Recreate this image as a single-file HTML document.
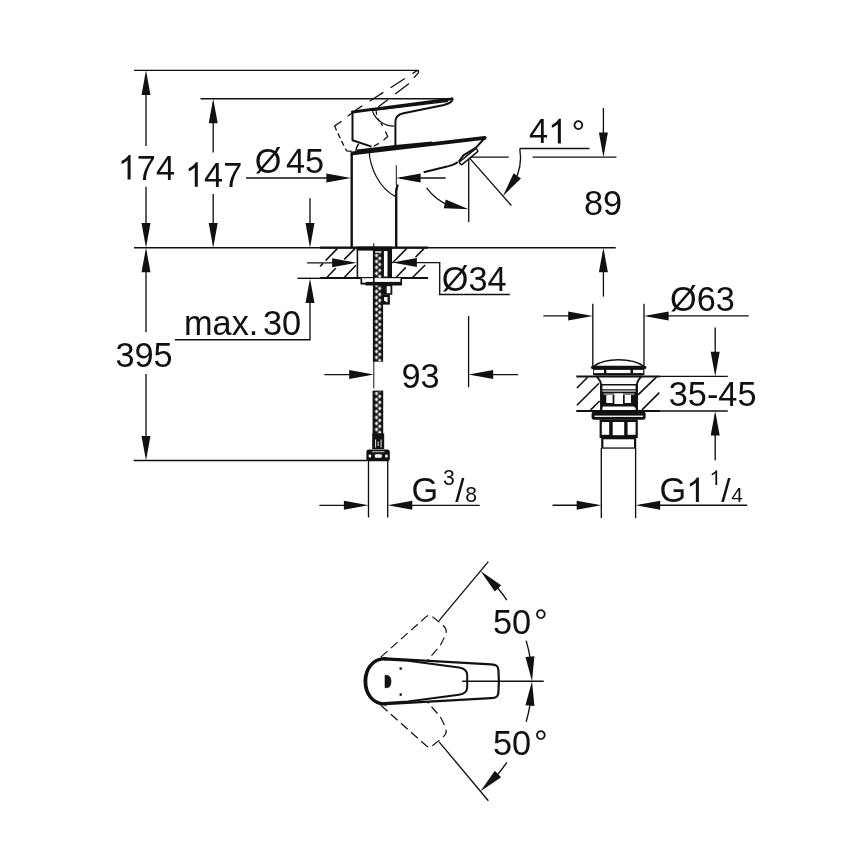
<!DOCTYPE html>
<html><head><meta charset="utf-8"><title>Dimension drawing</title>
<style>
html,body{margin:0;padding:0;background:#fff;}
body{width:868px;height:868px;overflow:hidden;}
svg{display:block;will-change:transform;}
text{font-family:"Liberation Sans",sans-serif;fill:#111;}
</style></head><body>
<svg width="868" height="868" viewBox="0 0 868 868">
<rect width="868" height="868" fill="#fff"/>
<line x1="134.00" y1="70.30" x2="418.70" y2="70.30" stroke="#111" stroke-width="1.35" />
<line x1="200.50" y1="98.70" x2="452.00" y2="98.70" stroke="#111" stroke-width="1.35" />
<line x1="134.00" y1="247.70" x2="615.70" y2="247.70" stroke="#111" stroke-width="1.35" />
<line x1="133.60" y1="460.50" x2="367.00" y2="460.50" stroke="#111" stroke-width="1.35" />
<line x1="146.00" y1="75.00" x2="146.00" y2="146.10" stroke="#111" stroke-width="1.35" />
<polygon points="146.00,70.30 150.50,94.90 141.50,94.90" fill="#111"/>
<line x1="146.00" y1="186.80" x2="146.00" y2="243.00" stroke="#111" stroke-width="1.35" />
<polygon points="146.00,247.70 141.50,223.10 150.50,223.10" fill="#111"/>
<line x1="213.20" y1="103.00" x2="213.20" y2="152.60" stroke="#111" stroke-width="1.35" />
<polygon points="213.20,98.70 217.70,123.30 208.70,123.30" fill="#111"/>
<line x1="213.20" y1="194.00" x2="213.20" y2="243.00" stroke="#111" stroke-width="1.35" />
<polygon points="213.20,247.70 208.70,223.10 217.70,223.10" fill="#111"/>
<polygon points="146.00,247.70 150.50,272.30 141.50,272.30" fill="#111"/>
<line x1="146.00" y1="252.00" x2="146.00" y2="332.20" stroke="#111" stroke-width="1.35" />
<line x1="146.00" y1="374.00" x2="146.00" y2="456.00" stroke="#111" stroke-width="1.35" />
<polygon points="146.00,460.50 141.50,435.90 150.50,435.90" fill="#111"/>
<line x1="246.10" y1="178.00" x2="345.00" y2="178.00" stroke="#111" stroke-width="1.35" />
<polygon points="351.00,178.00 326.40,182.50 326.40,173.50" fill="#111"/>
<polygon points="396.00,178.00 420.60,173.50 420.60,182.50" fill="#111"/>
<line x1="400.00" y1="178.00" x2="445.60" y2="178.00" stroke="#111" stroke-width="1.35" />
<line x1="310.00" y1="198.30" x2="310.00" y2="243.00" stroke="#111" stroke-width="1.35" />
<polygon points="310.00,247.70 305.50,223.10 314.50,223.10" fill="#111"/>
<polygon points="310.00,278.40 314.50,303.00 305.50,303.00" fill="#111"/>
<line x1="310.00" y1="283.00" x2="310.00" y2="339.70" stroke="#111" stroke-width="1.35" />
<line x1="174.80" y1="339.70" x2="310.60" y2="339.70" stroke="#111" stroke-width="1.35" />
<line x1="297.40" y1="278.30" x2="322.00" y2="278.30" stroke="#111" stroke-width="1.35" />
<line x1="307.10" y1="262.80" x2="350.00" y2="262.80" stroke="#111" stroke-width="1.35" />
<polygon points="356.70,262.80 332.10,267.30 332.10,258.30" fill="#111"/>
<polygon points="392.30,262.60 416.90,258.10 416.90,267.10" fill="#111"/>
<path d="M398 262.6 H439.7 V294.5 H509.8" stroke="#111" stroke-width="1.35" fill="none" />
<line x1="324.30" y1="374.60" x2="368.00" y2="374.60" stroke="#111" stroke-width="1.35" />
<polygon points="373.80,374.60 349.20,379.10 349.20,370.10" fill="#111"/>
<line x1="468.60" y1="316.00" x2="468.60" y2="387.20" stroke="#111" stroke-width="1.35" />
<polygon points="468.60,374.60 493.20,370.10 493.20,379.10" fill="#111"/>
<line x1="473.00" y1="374.60" x2="518.00" y2="374.60" stroke="#111" stroke-width="1.35" />
<line x1="373.80" y1="243.20" x2="373.80" y2="388.50" stroke="#111" stroke-width="1.0" />
<line x1="368.50" y1="460.50" x2="368.50" y2="517.50" stroke="#111" stroke-width="1.35" />
<line x1="387.70" y1="460.50" x2="387.70" y2="517.50" stroke="#111" stroke-width="1.35" />
<line x1="319.40" y1="505.30" x2="363.00" y2="505.30" stroke="#111" stroke-width="1.35" />
<polygon points="368.50,505.30 343.90,509.80 343.90,500.80" fill="#111"/>
<polygon points="387.70,505.30 412.30,500.80 412.30,509.80" fill="#111"/>
<line x1="392.00" y1="505.30" x2="479.70" y2="505.30" stroke="#111" stroke-width="1.35" />
<line x1="603.40" y1="108.00" x2="603.40" y2="152.00" stroke="#111" stroke-width="1.35" />
<polygon points="603.40,157.20 598.90,132.60 607.90,132.60" fill="#111"/>
<polygon points="603.40,247.70 607.90,272.30 598.90,272.30" fill="#111"/>
<line x1="603.40" y1="252.00" x2="603.40" y2="296.60" stroke="#111" stroke-width="1.35" />
<line x1="468.70" y1="157.10" x2="508.70" y2="157.10" stroke="#111" stroke-width="1.35" />
<line x1="532.60" y1="157.10" x2="616.50" y2="157.10" stroke="#111" stroke-width="1.35" />
<line x1="468.70" y1="157.10" x2="468.70" y2="221.90" stroke="#111" stroke-width="1.35" />
<line x1="468.70" y1="157.10" x2="511.40" y2="205.50" stroke="#111" stroke-width="1.35" />
<line x1="519.80" y1="148.50" x2="589.50" y2="148.50" stroke="#111" stroke-width="1.35" />
<path d="M519.79 148.55 A51.8 51.8 0 0 1 513.56 183.00" stroke="#111" stroke-width="1.35" fill="none" />
<polygon points="502.96,195.96 513.62,173.33 520.94,178.57" fill="#111"/>
<path d="M426.58 187.93 A52.2 52.2 0 0 0 449.15 205.50" stroke="#111" stroke-width="1.35" fill="none" />
<polygon points="468.70,209.30 443.72,208.15 445.74,199.38" fill="#111"/>
<line x1="592.80" y1="303.80" x2="592.80" y2="366.00" stroke="#111" stroke-width="1.35" />
<line x1="644.00" y1="303.80" x2="644.00" y2="366.00" stroke="#111" stroke-width="1.35" />
<line x1="543.40" y1="315.90" x2="587.00" y2="315.90" stroke="#111" stroke-width="1.35" />
<polygon points="592.80,315.90 568.20,320.40 568.20,311.40" fill="#111"/>
<polygon points="644.00,315.90 668.60,311.40 668.60,320.40" fill="#111"/>
<line x1="648.00" y1="315.90" x2="748.70" y2="315.90" stroke="#111" stroke-width="1.35" />
<line x1="601.30" y1="448.00" x2="601.30" y2="518.00" stroke="#111" stroke-width="1.35" />
<line x1="635.60" y1="448.00" x2="635.60" y2="518.00" stroke="#111" stroke-width="1.35" />
<line x1="552.50" y1="505.20" x2="596.00" y2="505.20" stroke="#111" stroke-width="1.35" />
<polygon points="601.30,505.20 576.70,509.70 576.70,500.70" fill="#111"/>
<polygon points="635.60,505.20 660.20,500.70 660.20,509.70" fill="#111"/>
<line x1="640.00" y1="505.20" x2="747.20" y2="505.20" stroke="#111" stroke-width="1.35" />
<line x1="660.00" y1="376.40" x2="727.80" y2="376.40" stroke="#111" stroke-width="1.35" />
<line x1="660.00" y1="411.00" x2="727.80" y2="411.00" stroke="#111" stroke-width="1.35" />
<line x1="715.20" y1="327.50" x2="715.20" y2="371.00" stroke="#111" stroke-width="1.35" />
<polygon points="715.20,376.40 710.70,351.80 719.70,351.80" fill="#111"/>
<polygon points="715.20,411.00 719.70,435.60 710.70,435.60" fill="#111"/>
<line x1="715.20" y1="415.00" x2="715.20" y2="460.30" stroke="#111" stroke-width="1.35" />
<path transform="translate(117.79,179.50) scale(0.03430,-0.03430)" d="M373 0 L285 0 L285 560 Q253 530 201 499 Q150 468 109 453 L109 538 Q183 573 238 622 Q293 671 316 716 L373 716 Z" fill="#111"/>
<text x="136.86" y="179.50" font-size="34.3">7</text>
<text x="155.94" y="179.50" font-size="34.3">4</text>
<path transform="translate(184.99,186.80) scale(0.03430,-0.03430)" d="M373 0 L285 0 L285 560 Q253 530 201 499 Q150 468 109 453 L109 538 Q183 573 238 622 Q293 671 316 716 L373 716 Z" fill="#111"/>
<text x="204.06" y="186.80" font-size="34.3">4</text>
<text x="223.14" y="186.80" font-size="34.3">7</text>
<text x="144.00" y="367.20" font-size="34.3" text-anchor="middle" >395</text>
<text x="254.80" y="172.50" font-size="34.3" text-anchor="start" >Ø</text>
<text x="286.00" y="172.50" font-size="34.3" text-anchor="start" >45</text>
<text x="184.00" y="334.90" font-size="34.3" text-anchor="start" >max.</text>
<text x="263.00" y="334.90" font-size="34.3" text-anchor="start" >30</text>
<text x="441.80" y="291.30" font-size="34.3" text-anchor="start" >Ø34</text>
<text x="401.50" y="387.60" font-size="34.3" text-anchor="start" >93</text>
<text x="584.00" y="214.80" font-size="34.3" text-anchor="start" >89</text>
<text x="529.00" y="143.40" font-size="34.3">4</text>
<path transform="translate(548.07,143.40) scale(0.03430,-0.03430)" d="M373 0 L285 0 L285 560 Q253 530 201 499 Q150 468 109 453 L109 538 Q183 573 238 622 Q293 671 316 716 L373 716 Z" fill="#111"/>
<text x="571.40" y="145.00" font-size="34.3" text-anchor="start" >°</text>
<text x="670.00" y="311.10" font-size="34.3" text-anchor="start" >Ø63</text>
<text x="668.80" y="406.40" font-size="34.3" text-anchor="start" >35-45</text>
<text x="411.60" y="502.10" font-size="34.3" text-anchor="start" >G</text>
<text x="443.10" y="485.10" font-size="21.2" text-anchor="start" >3</text>
<text x="455.30" y="501.80" font-size="33" text-anchor="start" >/</text>
<text x="465.30" y="502.20" font-size="21.2" text-anchor="start" >8</text>
<text x="659.40" y="502.00" font-size="34.3">G</text>
<path transform="translate(686.09,502.00) scale(0.03430,-0.03430)" d="M373 0 L285 0 L285 560 Q253 530 201 499 Q150 468 109 453 L109 538 Q183 573 238 622 Q293 671 316 716 L373 716 Z" fill="#111"/>
<path transform="translate(709.50,484.90) scale(0.02060,-0.02060)" d="M373 0 L285 0 L285 560 Q253 530 201 499 Q150 468 109 453 L109 538 Q183 573 238 622 Q293 671 316 716 L373 716 Z" fill="#111"/>
<text x="721.30" y="501.50" font-size="33.5" text-anchor="start" >/</text>
<text x="731.20" y="501.70" font-size="21" text-anchor="start" >4</text>
<text x="493.00" y="633.60" font-size="34.3" text-anchor="start" >50</text>
<text x="534.00" y="633.60" font-size="34.3" text-anchor="start" >°</text>
<text x="493.00" y="754.90" font-size="34.3" text-anchor="start" >50</text>
<text x="534.00" y="754.90" font-size="34.3" text-anchor="start" >°</text>
<line x1="351.70" y1="153.00" x2="351.70" y2="247.00" stroke="#111" stroke-width="2.4" />
<line x1="396.30" y1="165.20" x2="396.30" y2="185.00" stroke="#111" stroke-width="1.0" />
<path d="M397.6 184.5 L396.2 191 V247" stroke="#111" stroke-width="2.4" fill="none" />
<path d="M369 149.5 C369.8 168, 379 188, 395.5 196.6" stroke="#111" stroke-width="1.2" fill="none" />
<path d="M352.4 153.4 L484.8 137.9" stroke="#111" stroke-width="3.6" fill="none" stroke-linecap="round"/>
<path d="M357 150.6 L395.3 146.3 L432 142.8" stroke="#111" stroke-width="2.4" fill="none" />
<path d="M484.8 138 L476 147.6 L463.4 155.3 L458.8 161.6" stroke="#111" stroke-width="2.0" fill="none" stroke-linejoin="round"/>
<g transform="translate(468.6,156.6) rotate(-39.5)"><rect x="-11" y="-1.7" width="22" height="3.6" rx="1.2" fill="#fff" stroke="#111" stroke-width="1.5"/></g>
<path d="M457.8 162 C454 165, 451 165.6, 446 166.8 L423.7 172.3" stroke="#111" stroke-width="2.0" fill="none" />
<path d="M352.4 112 L452 98.8" stroke="#111" stroke-width="2.8" fill="none" stroke-linecap="round"/>
<path d="M372 110.6 L448 101.2" stroke="#111" stroke-width="1.4" fill="none" />
<path d="M452.3 99 C453.2 101.2, 450 103, 444 105 L403.5 113.2 C397.5 114.6, 395.4 117, 395.4 121.5 V146" stroke="#111" stroke-width="2.0" fill="none" />
<path d="M352.5 111.5 V140.3 L371.5 146.6" stroke="#111" stroke-width="2.0" fill="none" stroke-linejoin="round"/>
<path d="M372.5 111.3 A23 23 0 0 0 394 126.2" stroke="#111" stroke-width="1.2" fill="none" />
<path d="M358.7 143.8 C356.6 146.5, 355.8 149, 355.6 152.5" stroke="#111" stroke-width="1.5" fill="none" />
<path d="M413.9 77.7 L418.6 72.6 L418.4 70.9 L416.6 70.8 L412.5 73.6" stroke="#111" stroke-width="1.3" fill="none" stroke-linejoin="round"/>
<path d="M404.9 78.5 L390.6 87.7" stroke="#111" stroke-width="1.3" fill="none" stroke-linejoin="round"/>
<path d="M383.3 92.4 L369.6 101.2" stroke="#111" stroke-width="1.3" fill="none" stroke-linejoin="round"/>
<path d="M362.3 105.9 L355.4 110.2" stroke="#111" stroke-width="1.3" fill="none" stroke-linejoin="round"/>
<path d="M351.7 113.4 L347.6 116.2" stroke="#111" stroke-width="1.3" fill="none" stroke-linejoin="round"/>
<path d="M341.6 121.3 L334.7 125.9 L336.5 130.5" stroke="#111" stroke-width="1.3" fill="none" stroke-linejoin="round"/>
<path d="M337.9 133.2 L340.2 138.3" stroke="#111" stroke-width="1.3" fill="none" stroke-linejoin="round"/>
<path d="M341.6 141.1 L343.9 145.7" stroke="#111" stroke-width="1.3" fill="none" stroke-linejoin="round"/>
<path d="M345.3 148.5 L346.7 150.9 L351.7 151.3" stroke="#111" stroke-width="1.3" fill="none" stroke-linejoin="round"/>
<path d="M373.8 146.2 L378.9 143.4" stroke="#111" stroke-width="1.3" fill="none" stroke-linejoin="round"/>
<path d="M383.5 140.2 L387.7 136.5 L385.4 131.4" stroke="#111" stroke-width="1.3" fill="none" stroke-linejoin="round"/>
<path d="M409 83.4 L395.3 93.9" stroke="#111" stroke-width="1.3" fill="none" stroke-linejoin="round"/>
<path d="M388.1 99.5 L378.4 106.8" stroke="#111" stroke-width="1.3" fill="none" stroke-linejoin="round"/>
<path d="M376.2 111.1 L376.6 114.8" stroke="#111" stroke-width="1.3" fill="none" stroke-linejoin="round"/>
<path d="M378 118.5 L379.4 121.3" stroke="#111" stroke-width="1.3" fill="none" stroke-linejoin="round"/>
<path d="M380.8 123.1 L382.6 125.9" stroke="#111" stroke-width="1.3" fill="none" stroke-linejoin="round"/>
<line x1="320.00" y1="247.70" x2="428.00" y2="247.70" stroke="#111" stroke-width="2.2" />
<line x1="320.00" y1="278.00" x2="428.00" y2="278.00" stroke="#111" stroke-width="2.2" />
<line x1="320.00" y1="266.50" x2="323.00" y2="263.40" stroke="#111" stroke-width="1.6" />
<line x1="325.60" y1="260.60" x2="337.50" y2="248.40" stroke="#111" stroke-width="1.6" />
<line x1="326.90" y1="277.50" x2="335.70" y2="268.20" stroke="#111" stroke-width="1.6" />
<line x1="344.20" y1="259.40" x2="355.20" y2="248.40" stroke="#111" stroke-width="1.6" />
<line x1="344.20" y1="277.50" x2="356.00" y2="265.20" stroke="#111" stroke-width="1.6" />
<line x1="392.40" y1="263.00" x2="406.80" y2="248.40" stroke="#111" stroke-width="1.6" />
<line x1="396.10" y1="277.50" x2="405.80" y2="267.40" stroke="#111" stroke-width="1.6" />
<line x1="415.50" y1="257.20" x2="424.20" y2="248.40" stroke="#111" stroke-width="1.6" />
<line x1="412.70" y1="277.30" x2="425.20" y2="265.00" stroke="#111" stroke-width="1.6" />
<rect x="356.90" y="246.60" width="35.20" height="4.00" fill="#111" stroke="none" stroke-width="0" />
<line x1="357.40" y1="247.00" x2="357.40" y2="278.00" stroke="#111" stroke-width="1.6" />
<rect x="388.00" y="247.00" width="4.00" height="31.00" fill="#111" stroke="none" stroke-width="0" />
<rect x="383.40" y="250.50" width="4.60" height="26.50" fill="#fff" stroke="#111" stroke-width="1.0" />
<defs><pattern id="br" x="373.6" y="253.6" width="9" height="6" patternUnits="userSpaceOnUse">
<rect width="9" height="6" fill="#111"/>
<path d="M2.9 -0.3 L4.7 1.8 L2.9 3.9 L1.1 1.8Z M6.1 2.7 L7.9 4.8 L6.1 6.9 L4.3 4.8Z M6.1 -3.3 L7.9 -1.2 L6.1 0.9 L4.3 -1.2Z" fill="#fff"/>
</pattern></defs>
<rect x="372.90" y="250.00" width="10.20" height="111.60" fill="#111" stroke="none" stroke-width="0" />
<rect x="373.60" y="253.60" width="9.00" height="107.80" fill="url(#br)" stroke="none" stroke-width="0" />
<rect x="375.20" y="251.30" width="6.20" height="1.40" fill="#fff" stroke="none" stroke-width="0" />
<rect x="372.60" y="390.60" width="10.60" height="43.40" fill="#111" stroke="none" stroke-width="0" />
<rect x="373.60" y="391.60" width="9.00" height="42.00" fill="url(#br)" stroke="none" stroke-width="0" />
<rect x="361.30" y="278.20" width="39.90" height="6.20" fill="#fff" stroke="none" stroke-width="0" />
<path d="M361.3 278.5 V283.6 H365.6 L366.4 284.6 H401.2 V278.5" stroke="#111" stroke-width="1.7" fill="none" />
<rect x="365.80" y="281.90" width="35.40" height="3.00" fill="#111" stroke="none" stroke-width="0" />
<rect x="361.30" y="282.90" width="5.00" height="1.30" fill="#111" stroke="none" stroke-width="0" />
<rect x="373.00" y="278.00" width="1.60" height="7.00" fill="#111" stroke="none" stroke-width="0" />
<rect x="382.70" y="285.00" width="9.60" height="9.80" fill="#111" stroke="none" stroke-width="0" />
<rect x="386.70" y="286.20" width="3.80" height="7.00" fill="#fff" stroke="none" stroke-width="0" />
<rect x="382.70" y="294.60" width="7.20" height="10.00" fill="#111" stroke="none" stroke-width="0" />
<path d="M384 297 H387.6 V302.6 L384 300.8 Z" stroke="#111" stroke-width="0.1" fill="#fff" />
<rect x="372.20" y="433.50" width="12.00" height="15.50" fill="#111" stroke="none" stroke-width="0" />
<rect x="375.20" y="439.50" width="0.90" height="8.00" fill="#fff" stroke="none" stroke-width="0" />
<rect x="380.60" y="439.50" width="0.90" height="8.00" fill="#fff" stroke="none" stroke-width="0" />
<rect x="377.40" y="441.50" width="1.60" height="4.50" fill="#999" stroke="none" stroke-width="0" />
<rect x="366.4" y="449.4" width="23.4" height="11.8" rx="2.5" fill="#111"/>
<rect x="368.70" y="454.60" width="2.40" height="2.80" fill="#fff" stroke="none" stroke-width="0" />
<rect x="374.90" y="454.20" width="6.90" height="3.50" fill="#fff" stroke="none" stroke-width="0" rx="1"/>
<rect x="385.20" y="454.60" width="2.40" height="2.80" fill="#fff" stroke="none" stroke-width="0" />
<rect x="372.00" y="451.40" width="12.50" height="0.80" fill="#fff" stroke="none" stroke-width="0" />
<line x1="576.30" y1="376.40" x2="660.00" y2="376.40" stroke="#111" stroke-width="2.0" />
<line x1="576.30" y1="411.00" x2="660.00" y2="411.00" stroke="#111" stroke-width="2.0" />
<line x1="576.90" y1="388.00" x2="587.60" y2="377.30" stroke="#111" stroke-width="1.6" />
<line x1="576.90" y1="405.30" x2="599.00" y2="383.20" stroke="#111" stroke-width="1.6" />
<line x1="590.70" y1="409.90" x2="599.60" y2="401.00" stroke="#111" stroke-width="1.6" />
<line x1="638.00" y1="394.90" x2="656.60" y2="376.90" stroke="#111" stroke-width="1.6" />
<line x1="642.00" y1="409.90" x2="659.30" y2="392.60" stroke="#111" stroke-width="1.6" />
<path d="M594 366.2 C605 357.6, 632 357.6, 643.5 366.2" stroke="#111" stroke-width="1.6" fill="none" />
<line x1="592.60" y1="367.40" x2="644.80" y2="367.40" stroke="#111" stroke-width="3.2" stroke-linecap="round"/>
<rect x="593.00" y="368.50" width="51.40" height="6.50" fill="#111" stroke="none" stroke-width="0" />
<rect x="593.80" y="369.90" width="10.20" height="3.20" fill="#fff" stroke="none" stroke-width="0" />
<rect x="606.30" y="369.90" width="24.20" height="3.20" fill="#fff" stroke="none" stroke-width="0" />
<rect x="633.00" y="369.90" width="10.20" height="3.20" fill="#fff" stroke="none" stroke-width="0" />
<path d="M596.5 376.5 C598.5 379, 600.6 380, 601 384 V411 H637 V384 C637.4 380, 639.5 379, 641.5 376.5 Z" stroke="#111" stroke-width="1.8" fill="#fff" />
<line x1="601.00" y1="384.80" x2="637.00" y2="384.80" stroke="#111" stroke-width="1.6" />
<line x1="601.00" y1="389.90" x2="637.00" y2="389.90" stroke="#111" stroke-width="1.4" />
<rect x="601.00" y="391.60" width="36.00" height="2.00" fill="#111" stroke="none" stroke-width="0" />
<rect x="602.00" y="393.00" width="34.00" height="14.50" fill="#111" stroke="none" stroke-width="0" />
<rect x="603.60" y="393.60" width="30.80" height="0.90" fill="#fff" stroke="none" stroke-width="0" />
<rect x="606.30" y="395.00" width="6.30" height="8.00" fill="#fff" stroke="none" stroke-width="0" />
<rect x="614.40" y="393.40" width="8.60" height="10.60" fill="#fff" stroke="none" stroke-width="0" />
<rect x="624.70" y="395.00" width="6.30" height="8.00" fill="#fff" stroke="none" stroke-width="0" />
<rect x="602.90" y="406.50" width="31.40" height="3.40" fill="#fff" stroke="none" stroke-width="0" />
<rect x="600.40" y="384.00" width="2.00" height="27.00" fill="#111" stroke="none" stroke-width="0" />
<rect x="635.60" y="384.00" width="2.00" height="27.00" fill="#111" stroke="none" stroke-width="0" />
<rect x="591.6" y="411.6" width="54" height="8.2" rx="2.5" fill="#111"/>
<rect x="594.50" y="415.60" width="48.40" height="1.30" fill="#fff" stroke="none" stroke-width="0" />
<rect x="599.60" y="419.50" width="38.20" height="18.50" fill="#111" stroke="none" stroke-width="0" />
<rect x="601.80" y="422.00" width="7.40" height="12.80" fill="#fff" stroke="none" stroke-width="0" />
<rect x="612.70" y="422.00" width="11.50" height="13.20" fill="#fff" stroke="none" stroke-width="0" />
<rect x="627.60" y="422.00" width="8.00" height="12.80" fill="#fff" stroke="none" stroke-width="0" />
<rect x="601.20" y="437.50" width="35.00" height="11.20" fill="#111" stroke="none" stroke-width="0" />
<rect x="603.40" y="439.30" width="30.60" height="8.10" fill="#fff" stroke="none" stroke-width="0" />
<path d="M385 658.4 L491 664.3 C496.5 664.6, 498 666, 498.4 670 L498.9 681.2 L498.4 692.5 C498 696.5, 496.5 697.9, 491 698.2 L385 704.2 C372 704.2, 364.6 693, 364.6 681.2 C364.6 669.5, 372 658.4, 385 658.4 Z" stroke="#111" stroke-width="2.2" fill="none" />
<path d="M384 659.6 L408 660.8 L459 667.6 C464.5 668.4, 467 670.5, 467.2 675 V687.5 C467 692, 464.5 694, 459 694.8 L408 701.6 L384 702.9" stroke="#111" stroke-width="2.0" fill="none" />
<line x1="462.20" y1="681.20" x2="543.70" y2="681.20" stroke="#111" stroke-width="1.35" />
<path d="M385 675.3 H387.3 Q391 676 391 681.4 Q391 687 387.3 687.7 H385 Z" stroke="#111" stroke-width="0.6" fill="#111" />
<circle cx="400.7" cy="668.6" r="1.3" fill="#111"/><circle cx="400.7" cy="694.6" r="1.3" fill="#111"/>
<path d="M386.5 658.6 C372 658, 365.6 670, 365.6 681.3 C365.6 693, 372 704.6, 386.5 704" stroke="#111" stroke-width="3.4" fill="none" />
<path d="M380.8 657.1 L426.3 616.6 Q429 614.4 432 616.3 L441.6 624 Q446.5 628 446.2 631.5 Q445.5 636 440 646 L427.8 659.9" stroke="#111" stroke-width="1.2" fill="none" stroke-dasharray="9 4.5"/>
<path d="M380.8 705.3 L426.3 745.8 Q429 748 432 746.1 L441.6 738.4 Q446.5 734.4 446.2 730.9 Q445.5 726.4 440 716.4 L427.8 702.5" stroke="#111" stroke-width="1.2" fill="none" stroke-dasharray="9 4.5"/>
<line x1="439.07" y1="620.59" x2="488.34" y2="561.68" stroke="#111" stroke-width="1.35" />
<line x1="439.07" y1="741.81" x2="488.34" y2="800.72" stroke="#111" stroke-width="1.35" />
<polygon points="480.51,571.04 501.14,585.18 494.80,591.56" fill="#111"/>
<path d="M496.61 586.80 A143.6 143.6 0 0 1 506.89 600.07" stroke="#111" stroke-width="1.35" fill="none" />
<polygon points="480.51,791.36 494.80,770.84 501.14,777.22" fill="#111"/>
<path d="M506.89 762.33 A143.6 143.6 0 0 1 496.61 775.60" stroke="#111" stroke-width="1.35" fill="none" />
<polygon points="532.00,681.20 525.46,657.06 534.43,656.31" fill="#111"/>
<path d="M526.16 640.66 A143.6 143.6 0 0 1 530.23 658.74" stroke="#111" stroke-width="1.35" fill="none" />
<polygon points="532.00,681.20 534.43,706.09 525.46,705.34" fill="#111"/>
<path d="M530.23 703.66 A143.6 143.6 0 0 1 526.16 721.74" stroke="#111" stroke-width="1.35" fill="none" />
</svg>
</body></html>
